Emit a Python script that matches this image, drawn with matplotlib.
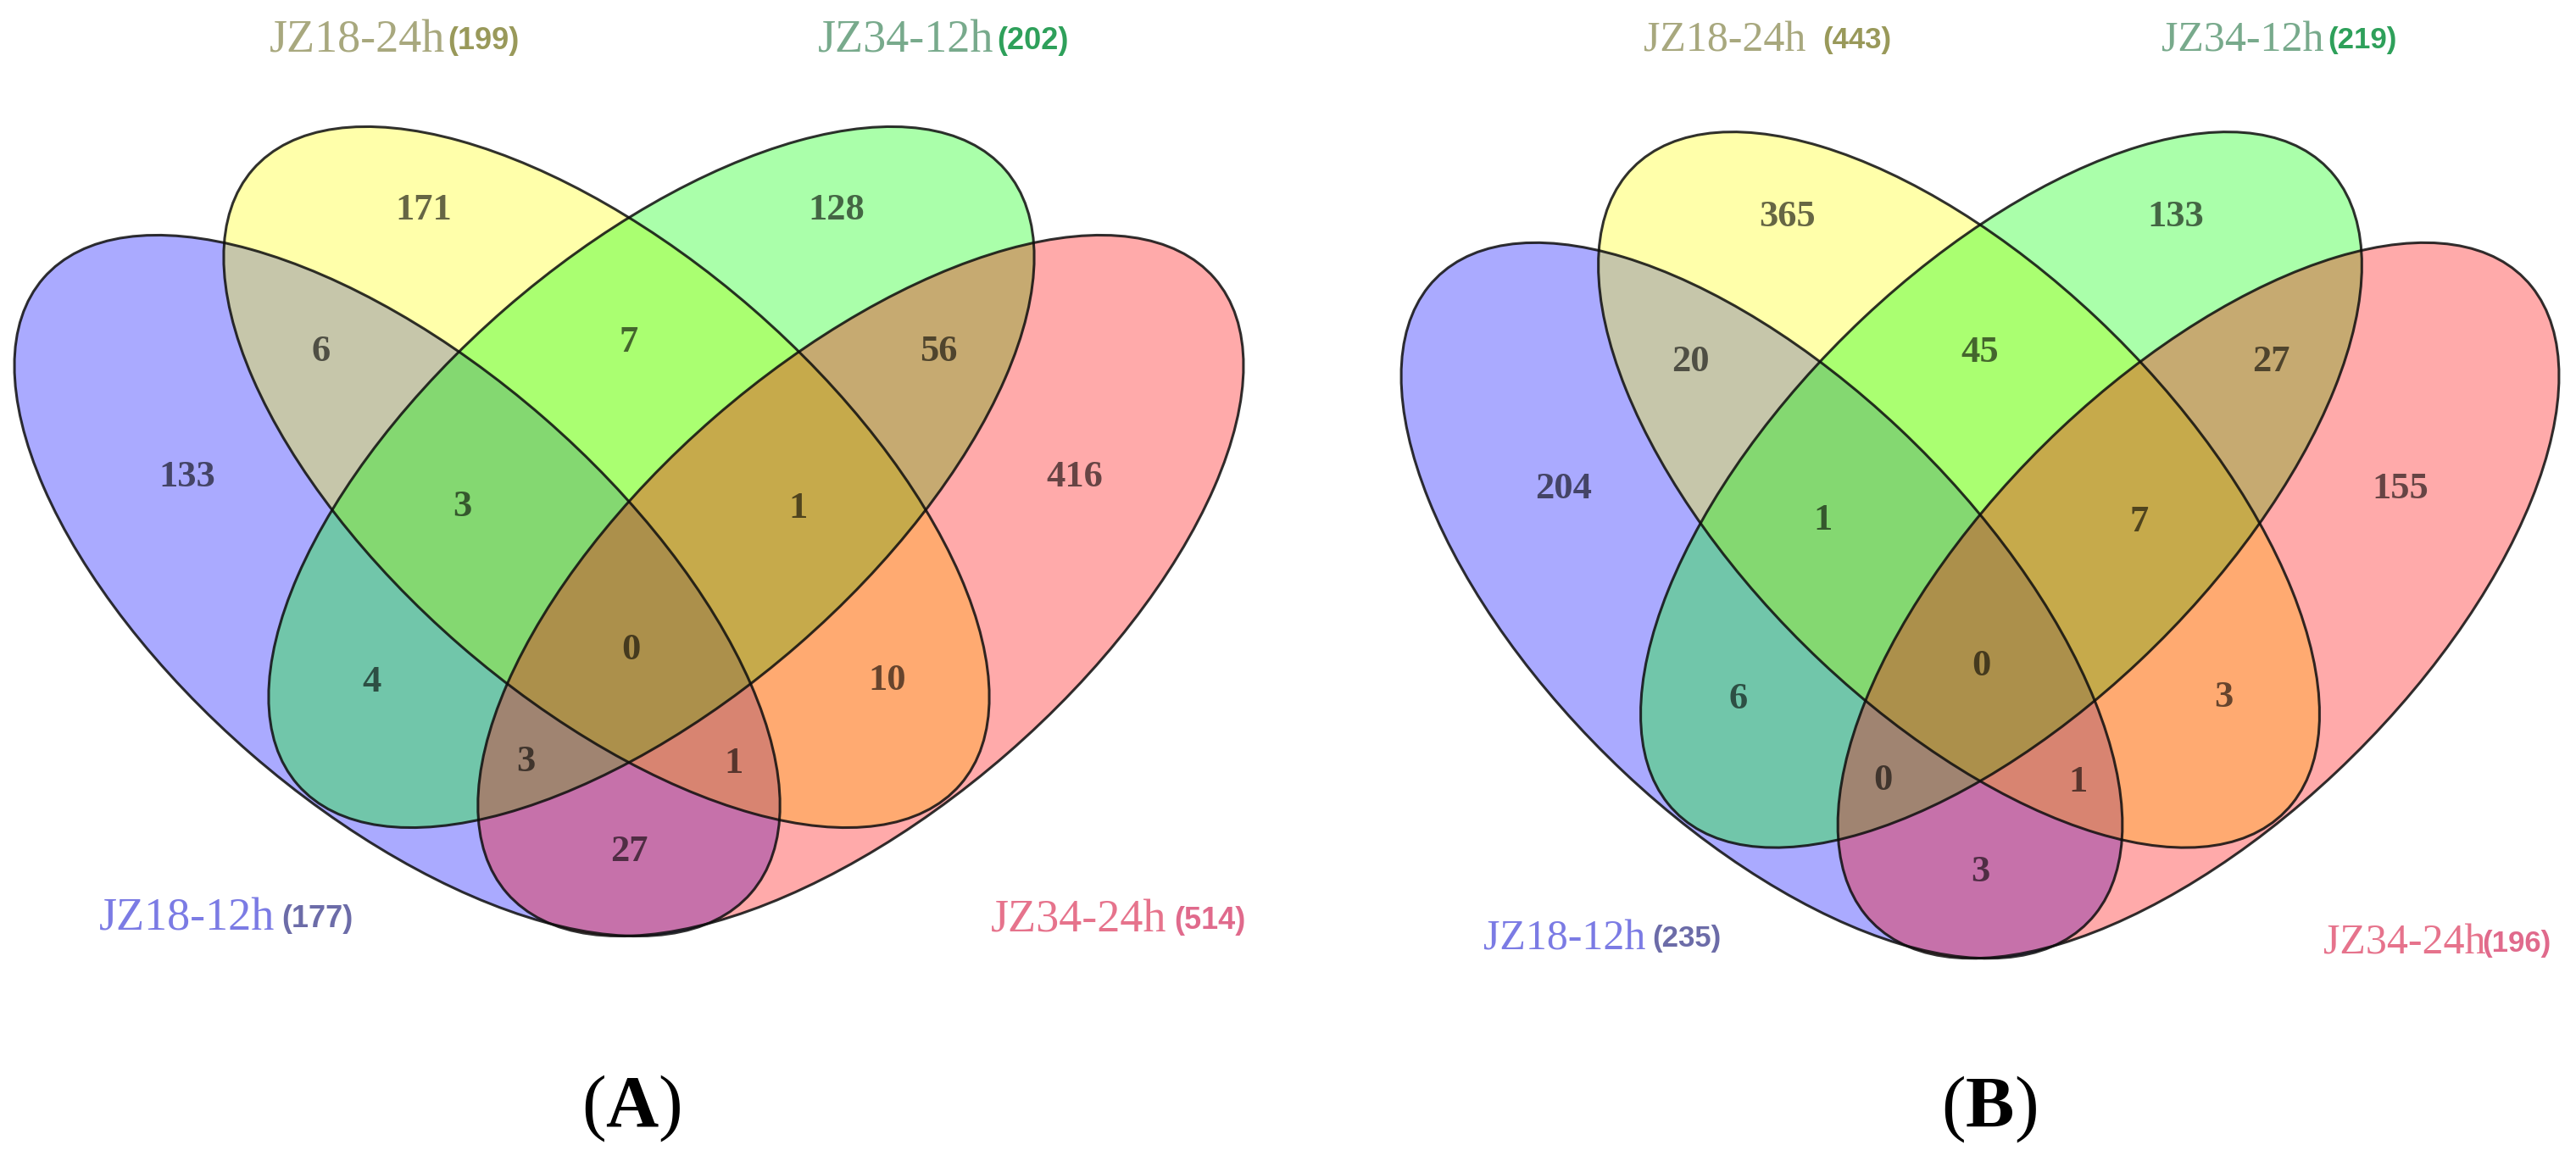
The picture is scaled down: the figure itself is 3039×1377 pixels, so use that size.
import matplotlib
matplotlib.use('Agg')
import matplotlib.pyplot as plt
from matplotlib.patches import Ellipse
import numpy as np

plt.rcParams['mathtext.fontset'] = 'custom'
plt.rcParams['mathtext.rm'] = 'Liberation Serif'
plt.rcParams['mathtext.bf'] = 'Liberation Serif:bold'

# ---------------- data ----------------
set_names = ['JZ18-12h', 'JZ18-24h', 'JZ34-12h', 'JZ34-24h']
totals_A = [177, 199, 202, 514]
totals_B = [235, 443, 219, 196]
# membership keys: (JZ18-12h, JZ18-24h, JZ34-12h, JZ34-24h)
region_keys = ['1000', '0100', '0010', '0001', '1100', '0110', '0011',
               '1010', '0101', '1001', '1110', '0111', '1011', '1101', '1111']
counts_A = [133, 171, 128, 416, 6, 7, 56, 4, 10, 27, 3, 1, 3, 1, 0]
counts_B = [204, 365, 133, 155, 20, 45, 27, 6, 3, 3, 1, 7, 0, 1, 0]
panel_tags = ['A', 'B']

# ---------------- style / layout ----------------
set_colors = [(0, 0, 1), (1, 1, 0), (0, 1, 0), (1, 0, 0)]
FILL_ALPHA = 1 / 3
name_colors = ['#7b7be4', '#a8a87e', '#78aa8c', '#e6738c']
count_colors = ['#6c6ca8', '#99995a', '#2ea05a', '#e06a8c']

W, H = 3039, 1377
SEMI_A, SEMI_B = 553, 263
ell_geom = [(468.6, 691, 41), (715.5, 563, 41), (768.5, 563, -41), (1015.4, 691, -41)]
num_pos = {'1000': (220.5, 562.5), '0100': (500, 248), '0010': (987, 248),
           '0001': (1268, 562.5), '1100': (379, 415), '0110': (742, 404),
           '0011': (1107, 415), '1010': (439, 805), '0101': (1047, 803),
           '1001': (742, 1005), '1110': (545, 598), '0111': (941, 600),
           '1011': (620.5, 899), '1101': (865, 901), '1111': (744, 766.5)}

# panel placement: local coords -> figure pixels  x' = ox + (x-742)*sx ; y' = oy + (y-259)*sy
panel_map = [(742, 259, 1.0, 1.0), (2336, 267.5, 0.942, 1.021)]
LOC_W, LOC_H = 1484, 1377

# label positions in figure pixels: (name_left_x, count_left_x, center_y)
label_pos = [
    [(117, 332, 1084), (317.5, 528, 48), (965, 1176, 48), (1169, 1385, 1086)],
    [(1750, 1949.5, 1108), (1939, 2150, 48), (2550, 2746, 48), (2741.5, 2928, 1113)],
]
name_size = [39, 36]
count_size = [26, 25]
tag_pos = [(745, 1329), (2346, 1330)]


def region_color(key):
    c = np.array([1.0, 1.0, 1.0])
    for i, k in enumerate(key):
        if k == '1':
            c = c * (1 - FILL_ALPHA) + np.array(set_colors[i]) * FILL_ALPHA
    return c


fig = plt.figure(figsize=(W / 100, H / 100), dpi=100)

panels = [(counts_A, totals_A), (counts_B, totals_B)]
for p, (counts, totals) in enumerate(panels):
    ox, oy, sx, sy = panel_map[p]
    left_px = ox - 742 * sx
    top_px = oy - 259 * sy
    w_px = LOC_W * sx
    h_px = LOC_H * sy
    ax = fig.add_axes([left_px / W, 1 - (top_px + h_px) / H, w_px / W, h_px / H])
    ax.set_xlim(0, LOC_W)
    ax.set_ylim(LOC_H, 0)
    ax.axis('off')
    # fills
    for i, (cx, cy, ang) in enumerate(ell_geom):
        ax.add_patch(Ellipse((cx, cy), 2 * SEMI_A, 2 * SEMI_B, angle=ang,
                             facecolor=set_colors[i], alpha=FILL_ALPHA,
                             edgecolor='none', zorder=1))
    # outlines
    for i, (cx, cy, ang) in enumerate(ell_geom):
        ax.add_patch(Ellipse((cx, cy), 2 * SEMI_A, 2 * SEMI_B, angle=ang,
                             facecolor='none', edgecolor=(0.05, 0.05, 0.05, 0.85),
                             lw=2.2, zorder=2))
    # counts
    for key, val in zip(region_keys, counts):
        x, y = num_pos[key]
        tc = region_color(key) * 0.4
        ax.text(x, y, str(val), ha='center', va='center', fontsize=32,
                family='Liberation Serif', weight='bold', color=tc, zorder=3)

ov = fig.add_axes([0, 0, 1, 1])
ov.set_xlim(0, W)
ov.set_ylim(H, 0)
ov.axis('off')
ov.patch.set_alpha(0)
for p, totals in enumerate([totals_A, totals_B]):
    for i in range(4):
        nx, cxp, yy = label_pos[p][i]
        ov.text(nx, yy, set_names[i], ha='left', va='center', fontsize=name_size[p],
                family='Liberation Serif', color=name_colors[i])
        ov.text(cxp, yy, '(%d)' % totals[i], ha='left', va='center', fontsize=count_size[p],
                family='Liberation Sans', weight='bold', color=count_colors[i])
    tx, ty = tag_pos[p]
    ov.text(tx, ty, r'$\mathrm{(}\mathbf{%s}\mathrm{)}$' % panel_tags[p], ha='center',
            va='baseline', fontsize=62, color='black')

fig.savefig('out.png', dpi=100, facecolor='white')
